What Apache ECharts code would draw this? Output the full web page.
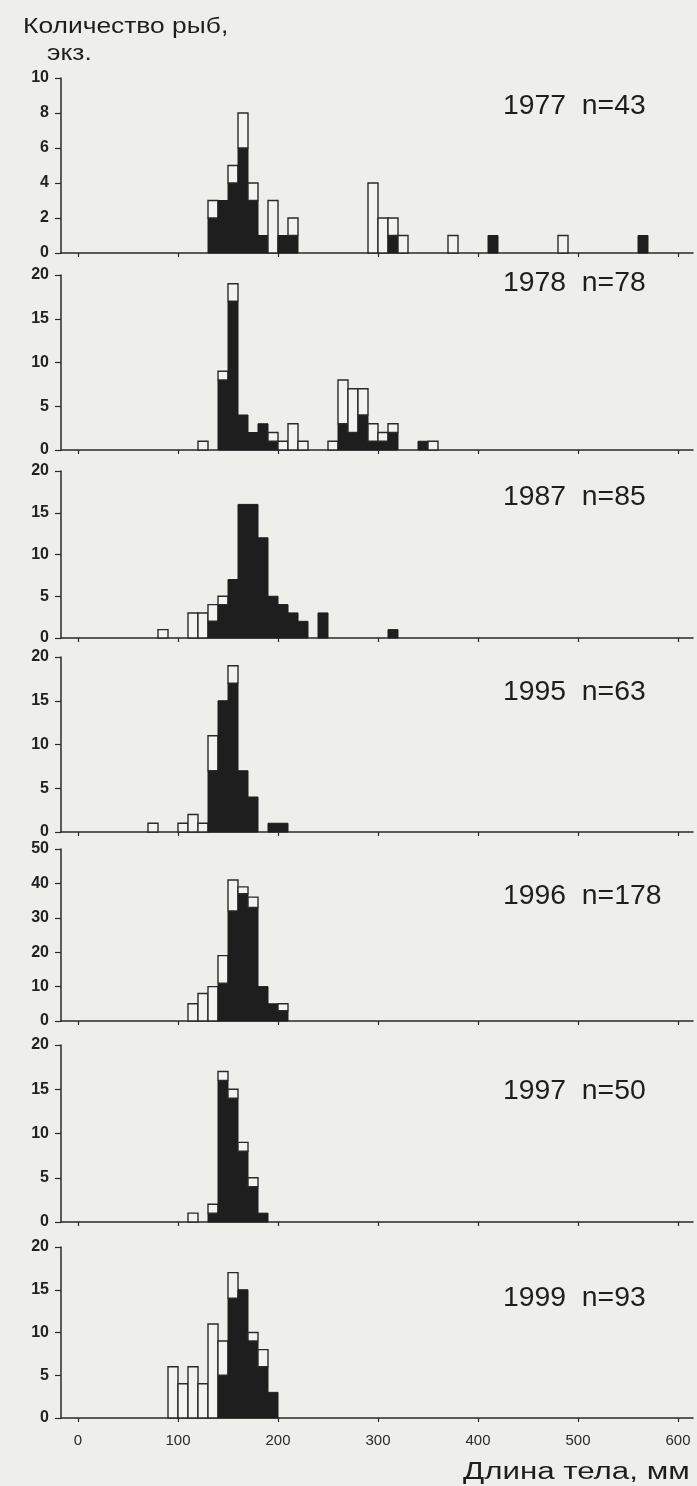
<!DOCTYPE html>
<html>
<head>
<meta charset="utf-8">
<script src="https://cdn.jsdelivr.net/npm/echarts@6/dist/echarts.min.js"></script>
<style>
html,body{margin:0;padding:0;background:#eeeeeb;}
#chart{width:697px;height:1486px;}
</style>
</head>
<body>
<div id="chart"></div>
<script>
// ---- data: bin start (mm), black count, white count ----
const BIN = 10;
const xTickValues = [0, 100, 200, 300, 400, 500, 600];

const panelLabels = ['1977  n=43', '1978  n=78', '1987  n=85', '1995  n=63', '1996  n=178', '1997  n=50', '1999  n=93'];
const yMax = [10, 20, 20, 20, 50, 20, 20];
const yStep = [2, 5, 5, 5, 10, 5, 5];

const bins1977  = [130,140,150,160,170,180,190,200,210,290,300,310,320,370,410,480,560];
const black1977 = [  2,  3,  4,  6,  3,  1,  0,  1,  1,  0,  0,  1,  0,  0,  1,  0,  1];
const white1977 = [  1,  0,  1,  2,  1,  0,  3,  0,  1,  4,  2,  1,  1,  1,  0,  1,  0];

const bins1978  = [120,140,150,160,170,180,190,200,210,220,250,260,270,280,290,300,310,340,350];
const black1978 = [  0,  8, 17,  4,  2,  3,  1,  0,  0,  0,  0,  3,  2,  4,  1,  1,  2,  1,  0];
const white1978 = [  1,  1,  2,  0,  0,  0,  1,  1,  3,  1,  1,  5,  5,  3,  2,  1,  1,  0,  1];

const bins1987  = [80,110,120,130,140,150,160,170,180,190,200,210,220,240,310];
const black1987 = [ 0,  0,  0,  2,  4,  7, 16, 16, 12,  5,  4,  3,  2,  3,  1];
const white1987 = [ 1,  3,  3,  2,  1,  0,  0,  0,  0,  0,  0,  0,  0,  0,  0];

const bins1995  = [70,100,110,120,130,140,150,160,170,190,200];
const black1995 = [ 0,  0,  0,  0,  7, 15, 17,  7,  4,  1,  1];
const white1995 = [ 1,  1,  2,  1,  4,  0,  2,  0,  0,  0,  0];

const bins1996  = [110,120,130,140,150,160,170,180,190,200];
const black1996 = [  0,  0,  0, 11, 32, 37, 33, 10,  5,  3];
const white1996 = [  5,  8, 10,  8,  9,  2,  3,  0,  0,  2];

const bins1997  = [110,130,140,150,160,170,180];
const black1997 = [  0,  1, 16, 14,  8,  4,  1];
const white1997 = [  1,  1,  1,  1,  1,  1,  0];

const bins1999  = [90,100,110,120,130,140,150,160,170,180,190];
const black1999 = [ 0,  0,  0,  0,  0,  5, 14, 15,  9,  6,  3];
const white1999 = [ 6,  4,  6,  4, 11,  4,  3,  0,  1,  2,  0];

const panelBins  = [bins1977, bins1978, bins1987, bins1995, bins1996, bins1997, bins1999];
const panelBlack = [black1977, black1978, black1987, black1995, black1996, black1997, black1999];
const panelWhite = [white1977, white1978, white1987, white1995, white1996, white1997, white1999];

// ---- layout (pixels) ----
const gridTop    = [78, 275, 471, 657, 849, 1045, 1247];
const gridBottom = [253, 450, 638, 832, 1021, 1222, 1418];
const labelY     = [107, 284, 498, 693, 897, 1092, 1299];
const FONT = '"Liberation Sans", Arial, sans-serif';
const INK = '#1e1e1e';

const grids = [], xAxes = [], yAxes = [], series = [], graphics = [];

for (let i = 0; i < 7; i++) {
  const last = i === 6;
  grids.push({left: 61, width: 632, top: gridTop[i], height: gridBottom[i] - gridTop[i]});
  xAxes.push({
    type: 'value', gridIndex: i, min: -17, max: 615,
    axisLine: {show: true, onZero: false, lineStyle: {color: '#2a2a2a', width: 1.5}},
    axisTick: {show: true, length: 4, inside: false, customValues: xTickValues, lineStyle: {color: '#2a2a2a', width: 1.2}},
    axisLabel: {show: last, customValues: xTickValues, fontFamily: FONT, fontSize: 15, color: '#2a2a2a', margin: 15},
    splitLine: {show: false}
  });
  yAxes.push({
    type: 'value', gridIndex: i, min: 0, max: yMax[i], interval: yStep[i],
    axisLine: {show: true, onZero: false, lineStyle: {color: '#2a2a2a', width: 1.5}},
    axisTick: {show: true, length: 6, inside: false, lineStyle: {color: '#2a2a2a', width: 1.2}},
    axisLabel: {fontFamily: FONT, fontSize: 16, fontWeight: 'bold', color: '#222', margin: 12},
    splitLine: {show: false}
  });
  const data = panelBins[i].map((b, k) => [b, panelBlack[i][k], panelWhite[i][k]]);
  series.push({
    type: 'custom', xAxisIndex: i, yAxisIndex: i, data: data,
    encode: {x: 0, y: [1, 2]},
    renderItem: function (params, api) {
      const x0 = api.value(0), b = api.value(1), w = api.value(2);
      const base = api.coord([x0, 0]);
      const pb = api.coord([x0 + BIN, b]);
      const pt = api.coord([x0 + BIN, b + w]);
      const children = [];
      if (b > 0) {
        children.push({type: 'rect', shape: {x: base[0], y: pb[1], width: pb[0] - base[0], height: base[1] - pb[1]},
          style: {fill: INK, stroke: INK, lineWidth: 1}});
      }
      if (w > 0) {
        children.push({type: 'rect', shape: {x: base[0], y: pt[1], width: pt[0] - base[0], height: pb[1] - pt[1]},
          style: {fill: '#f3f3f1', stroke: '#2a2a2a', lineWidth: 1.4}});
      }
      return {type: 'group', children: children};
    }
  });
  graphics.push({
    type: 'text', x: 503, y: labelY[i], scaleX: 1.05,
    style: {text: panelLabels[i], font: '27px ' + FONT, fill: INK, textAlign: 'left', textVerticalAlign: 'middle'}
  });
}

graphics.push({type: 'text', x: 23, y: 27, scaleX: 1.2,
  style: {text: 'Количество рыб,', font: '22px ' + FONT, fill: INK, textAlign: 'left', textVerticalAlign: 'middle'}});
graphics.push({type: 'text', x: 47, y: 54, scaleX: 1.2,
  style: {text: 'экз.', font: '22px ' + FONT, fill: INK, textAlign: 'left', textVerticalAlign: 'middle'}});
graphics.push({type: 'text', x: 463, y: 1473, scaleX: 1.36,
  style: {text: 'Длина тела, мм', font: '23px ' + FONT, fill: INK, textAlign: 'left', textVerticalAlign: 'middle'}});

const chart = echarts.init(document.getElementById('chart'), null, {renderer: 'canvas'});
chart.setOption({
  backgroundColor: '#eeeeeb',
  animation: false,
  grid: grids,
  xAxis: xAxes,
  yAxis: yAxes,
  series: series,
  graphic: graphics
});
</script>
</body>
</html>
